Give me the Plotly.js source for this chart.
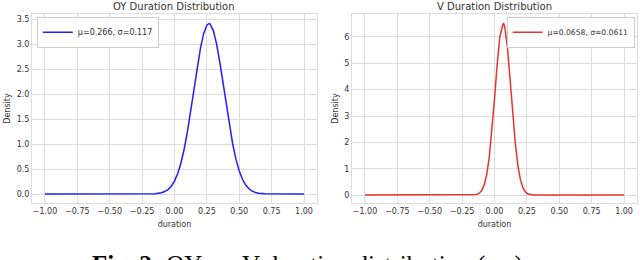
<!DOCTYPE html>
<html><head><meta charset="utf-8">
<script src="https://cdn.plot.ly/plotly-3.0.1.min.js"></script>
<style>html,body{margin:0;padding:0;background:#fff}#c{width:640px;height:260px}</style>
</head><body><div id="c"></div>
<script>
// OY duration density
const oyX = [-1.0, -0.5, -0.2, -0.15, -0.1, -0.075, -0.05, -0.025, 0.0, 0.025, 0.05, 0.075, 0.1, 0.125, 0.15, 0.175, 0.2, 0.225, 0.25, 0.266, 0.275, 0.3, 0.325, 0.35, 0.375, 0.4, 0.425, 0.45, 0.475, 0.5, 0.525, 0.55, 0.575, 0.6, 0.625, 0.65, 0.7, 0.75, 1.0];
const oyY = [0.0, 0.0, 0.001, 0.006, 0.026, 0.049, 0.089, 0.155, 0.257, 0.409, 0.620, 0.900, 1.247, 1.650, 2.086, 2.520, 2.909, 3.207, 3.378, 3.41, 3.400, 3.269, 3.003, 2.635, 2.209, 1.770, 1.354, 0.990, 0.692, 0.461, 0.294, 0.179, 0.104, 0.058, 0.031, 0.016, 0.004, 0.001, 0.0];
// V duration density
const vX = [-1.0, -0.5, -0.2, -0.18, -0.16, -0.14, -0.12, -0.10, -0.08, -0.06, -0.04, -0.02, 0.0, 0.02, 0.04, 0.06, 0.07, 0.08, 0.10, 0.12, 0.14, 0.16, 0.18, 0.20, 0.22, 0.24, 0.26, 0.28, 0.30, 0.32, 0.5, 1.0];
const vY = [0.0, 0.0, 0.0, 0.002, 0.007, 0.022, 0.064, 0.164, 0.379, 0.785, 1.458, 2.433, 3.656, 4.930, 5.973, 6.40, 6.53, 6.355, 5.583, 4.406, 3.126, 1.990, 1.138, 0.585, 0.270, 0.112, 0.042, 0.014, 0.004, 0.001, 0.0, 0.0];
const xTicks = [-1.0, -0.75, -0.5, -0.25, 0.0, 0.25, 0.5, 0.75, 1.0];
const oyYTicks = [0.0, 0.5, 1.0, 1.5, 2.0, 2.5, 3.0, 3.5];
const vYTicks = [0, 1, 2, 3, 4, 5, 6];
const oyLabel = 'μ=0.266, σ=0.117';
const vLabel = 'μ=0.0658, σ=0.0611';
const titles = ['OY Duration Distribution', 'V Duration Distribution'];
const xTitle = 'duration';
const yTitle = 'Density';
const caption = '<b>Fig. 2:</b> OY vs. V duration distribution (ms)';

const F = 'DejaVu Sans, sans-serif';
const txt = '#333';
const grid = '#dcdcdc';
const traces = [
  {x: oyX, y: oyY, type: 'scatter', mode: 'lines', name: oyLabel, line: {color: '#1f1fff', width: 1.5}, xaxis: 'x', yaxis: 'y', legend: 'legend'},
  {x: vX, y: vY, type: 'scatter', mode: 'lines', name: vLabel, line: {color: '#e8332f', width: 1.5}, xaxis: 'x2', yaxis: 'y2', legend: 'legend2'}
];
function xa(dom, anchor) {
  return {domain: dom, anchor: anchor, range: [-1.1, 1.1], tickvals: xTicks, tickformat: '.2f',
    showgrid: true, gridcolor: grid, gridwidth: 1, zeroline: false, showline: true, linecolor: grid, mirror: true,
    ticks: '', ticklen: 0, tickfont: {family: F, size: 8, color: txt},
    title: {text: xTitle, font: {family: F, size: 8, color: txt}, standoff: 6}};
}
function ya(anchor, range, tv, fmt) {
  return {domain: [0, 1], anchor: anchor, range: range, tickvals: tv, tickformat: fmt,
    showgrid: true, gridcolor: grid, gridwidth: 1, zeroline: false, showline: true, linecolor: grid, mirror: true,
    ticks: '', ticklen: 0, tickfont: {family: F, size: 8, color: txt},
    title: {text: yTitle, font: {family: F, size: 8, color: txt}, standoff: 4}};
}
const layout = {
  width: 640, height: 260, paper_bgcolor: '#fff', plot_bgcolor: '#fff',
  margin: {l: 32, r: 3, t: 14, b: 57},
  showlegend: true,
  xaxis: xa([0, 0.471], 'y'),
  yaxis: ya('x', [-0.18, 3.6], oyYTicks, '.1f'),
  xaxis2: xa([0.529, 1], 'y2'),
  yaxis2: ya('x2', [-0.3, 6.87], vYTicks, 'd'),
  legend: {x: 0.008, y: 0.985, xanchor: 'left', yanchor: 'top', bgcolor: '#fff', bordercolor: '#ccc', borderwidth: 1,
    font: {family: F, size: 8, color: txt}},
  legend2: {x: 0.996, y: 0.985, xanchor: 'right', yanchor: 'top', bgcolor: '#fff', bordercolor: '#ccc', borderwidth: 1,
    font: {family: F, size: 7.6, color: txt}},
  annotations: [
    {text: titles[0], xref: 'x domain', yref: 'paper', x: 0.5, y: 1, yanchor: 'bottom', yshift: 0, showarrow: false, font: {family: F, size: 10, color: txt}},
    {text: titles[1], xref: 'x2 domain', yref: 'paper', x: 0.5, y: 1, yanchor: 'bottom', yshift: 0, showarrow: false, font: {family: F, size: 10, color: txt}},
    {text: caption, xref: 'paper', yref: 'paper', x: 0.456, xanchor: 'center', y: -0.245, yanchor: 'top', showarrow: false, font: {family: 'Liberation Serif, serif', size: 25, color: '#000'}}
  ]
};
Plotly.newPlot('c', traces, layout, {displayModeBar: false, staticPlot: true});
</script></body></html>
